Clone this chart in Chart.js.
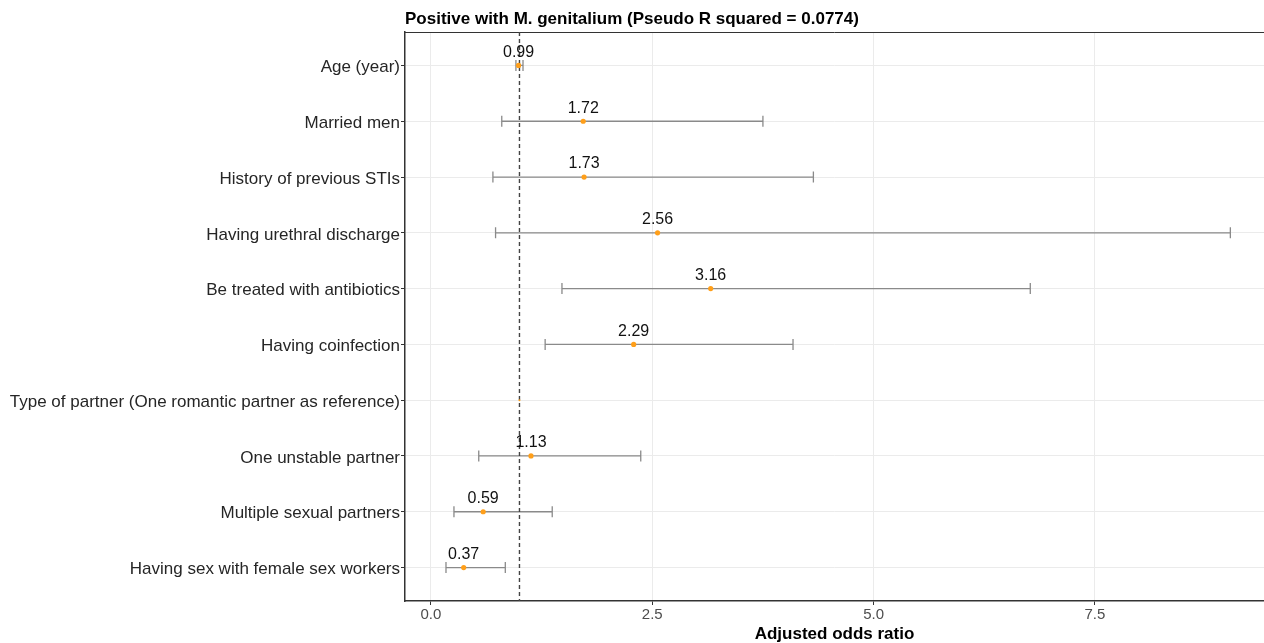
<!DOCTYPE html>
<html>
<head>
<meta charset="utf-8">
<script src="https://cdn.jsdelivr.net/npm/chart.js@4.4.1/dist/chart.umd.min.js"></script>
<style>
  html, body { margin: 0; padding: 0; background: #fff; overflow: hidden; }
  #wrap { width: 1264px; height: 643px; overflow: hidden; }
</style>
</head>
<body>
<div id="wrap"><canvas id="forest" width="1268" height="643"></canvas></div>
<script>
// Dados do grafico
const categories = [
  'Age (year)',
  'Married men',
  'History of previous STIs',
  'Having urethral discharge',
  'Be treated with antibiotics',
  'Having coinfection',
  'Type of partner (One romantic partner as reference)',
  'One unstable partner',
  'Multiple sexual partners',
  'Having sex with female sex workers'
];
const oddsRatio = [0.99, 1.72, 1.73, 2.56, 3.16, 2.29, 1.00, 1.13, 0.59, 0.37];
const ciLow     = [0.96, 0.80, 0.70, 0.73, 1.48, 1.29, 1.00, 0.54, 0.26, 0.17];
const ciHigh    = [1.04, 3.75, 4.32, 9.03, 6.77, 4.09, 1.00, 2.37, 1.37, 0.84];
const orLabels  = ['0.99', '1.72', '1.73', '2.56', '3.16', '2.29', '', '1.13', '0.59', '0.37'];
const xTicks    = [0, 2.5, 5, 7.5];
const refValue  = 1;

const chartTitle = 'Positive with M. genitalium (Pseudo R squared = 0.0774)';
const xTitle = 'Adjusted odds ratio';

const FONT = "'Liberation Sans', Arial, sans-serif";

// Barras de erro + linha de referencia + rotulos
const forestPlugin = {
  id: 'forest',
  beforeDatasetsDraw(chart) {
    const { ctx, chartArea: a, scales: { x, y } } = chart;
    ctx.save();
    // borda superior do painel
    ctx.strokeStyle = '#333';
    ctx.lineWidth = 1;
    ctx.beginPath();
    ctx.moveTo(a.left, a.top + 0.5);
    ctx.lineTo(a.right, a.top + 0.5);
    ctx.stroke();

    // intervalos de confianca
    ctx.strokeStyle = '#8a8a8a';
    ctx.lineWidth = 1.3;
    categories.forEach((c, i) => {
      if (ciLow[i] === ciHigh[i]) return;
      const yy = y.getPixelForValue(i + 1);
      const x0 = x.getPixelForValue(ciLow[i]);
      const x1 = x.getPixelForValue(ciHigh[i]);
      ctx.beginPath();
      ctx.moveTo(x0, yy); ctx.lineTo(x1, yy);
      ctx.moveTo(x0, yy - 5.5); ctx.lineTo(x0, yy + 5.5);
      ctx.moveTo(x1, yy - 5.5); ctx.lineTo(x1, yy + 5.5);
      ctx.stroke();
    });

    // linha tracejada em OR = 1
    const xr = x.getPixelForValue(refValue);
    ctx.strokeStyle = '#444';
    ctx.lineWidth = 1.4;
    ctx.setLineDash([4, 3]);
    ctx.beginPath();
    ctx.moveTo(xr, a.top); ctx.lineTo(xr, a.bottom);
    ctx.stroke();
    ctx.restore();
  },
  afterDatasetsDraw(chart) {
    const { ctx, scales: { x, y } } = chart;
    ctx.save();
    ctx.fillStyle = '#111';
    ctx.font = '16px ' + FONT;
    ctx.textAlign = 'center';
    ctx.textBaseline = 'middle';
    orLabels.forEach((t, i) => {
      if (!t) return;
      ctx.fillText(t, x.getPixelForValue(oddsRatio[i]), y.getPixelForValue(i + 1) - 13);
    });
    ctx.restore();
  },
  afterDraw(chart) {
    const { ctx, chartArea: a } = chart;
    ctx.save();
    ctx.fillStyle = '#000';
    ctx.font = 'bold 17px ' + FONT;
    ctx.textAlign = 'left';
    ctx.textBaseline = 'middle';
    ctx.fillText(chartTitle, a.left, 19);
    ctx.restore();
  }
};

new Chart(document.getElementById('forest'), {
  type: 'scatter',
  data: {
    datasets: [{
      data: oddsRatio.map((v, i) => ({ x: v, y: i + 1 })),
      backgroundColor: '#ff9f1a',
      borderColor: '#ff9f1a',
      pointRadius: ctx => (ciLow[ctx.dataIndex] === ciHigh[ctx.dataIndex] ? 1 : 2.6),
      borderWidth: 0
    }]
  },
  options: {
    responsive: false,
    animation: false,
    layout: { padding: { top: 32, right: 0, bottom: 0, left: 0 } },
    plugins: {
      legend: { display: false },
      tooltip: { enabled: false },
      title: { display: false }
    },
    scales: {
      x: {
        type: 'linear',
        min: -0.293,
        max: 9.41,
        afterBuildTicks: s => { s.ticks = xTicks.map(v => ({ value: v })); },
        afterFit: s => { s.height = 42; },
        grid: { color: '#ebebeb', lineWidth: 1, tickColor: '#333', tickLength: 4 },
        border: { display: true, color: '#333', width: 1.5 },
        ticks: {
          color: '#4d4d4d',
          font: { family: FONT, size: 15 },
          padding: 1,
          maxRotation: 0,
          callback: v => v.toFixed(1)
        },
        title: {
          display: true,
          text: xTitle,
          color: '#000',
          font: { family: FONT, size: 17, weight: 'bold', lineHeight: 1.05 },
          padding: { top: 0, bottom: 0 }
        }
      },
      y: {
        type: 'linear',
        reverse: true,
        min: 0.4,
        max: 10.6,
        afterBuildTicks: s => { s.ticks = categories.map((c, i) => ({ value: i + 1 })); },
        afterFit: s => { s.width = 405; },
        grid: { color: '#ebebeb', lineWidth: 1, tickColor: '#333', tickLength: 4 },
        border: { display: true, color: '#333', width: 1.5 },
        ticks: {
          color: '#262626',
          font: { family: FONT, size: 17 },
          padding: 1,
          labelOffset: 2,
          autoSkip: false,
          callback: v => categories[Math.round(v) - 1] || ''
        }
      }
    }
  },
  plugins: [forestPlugin]
});
</script>
</body>
</html>
